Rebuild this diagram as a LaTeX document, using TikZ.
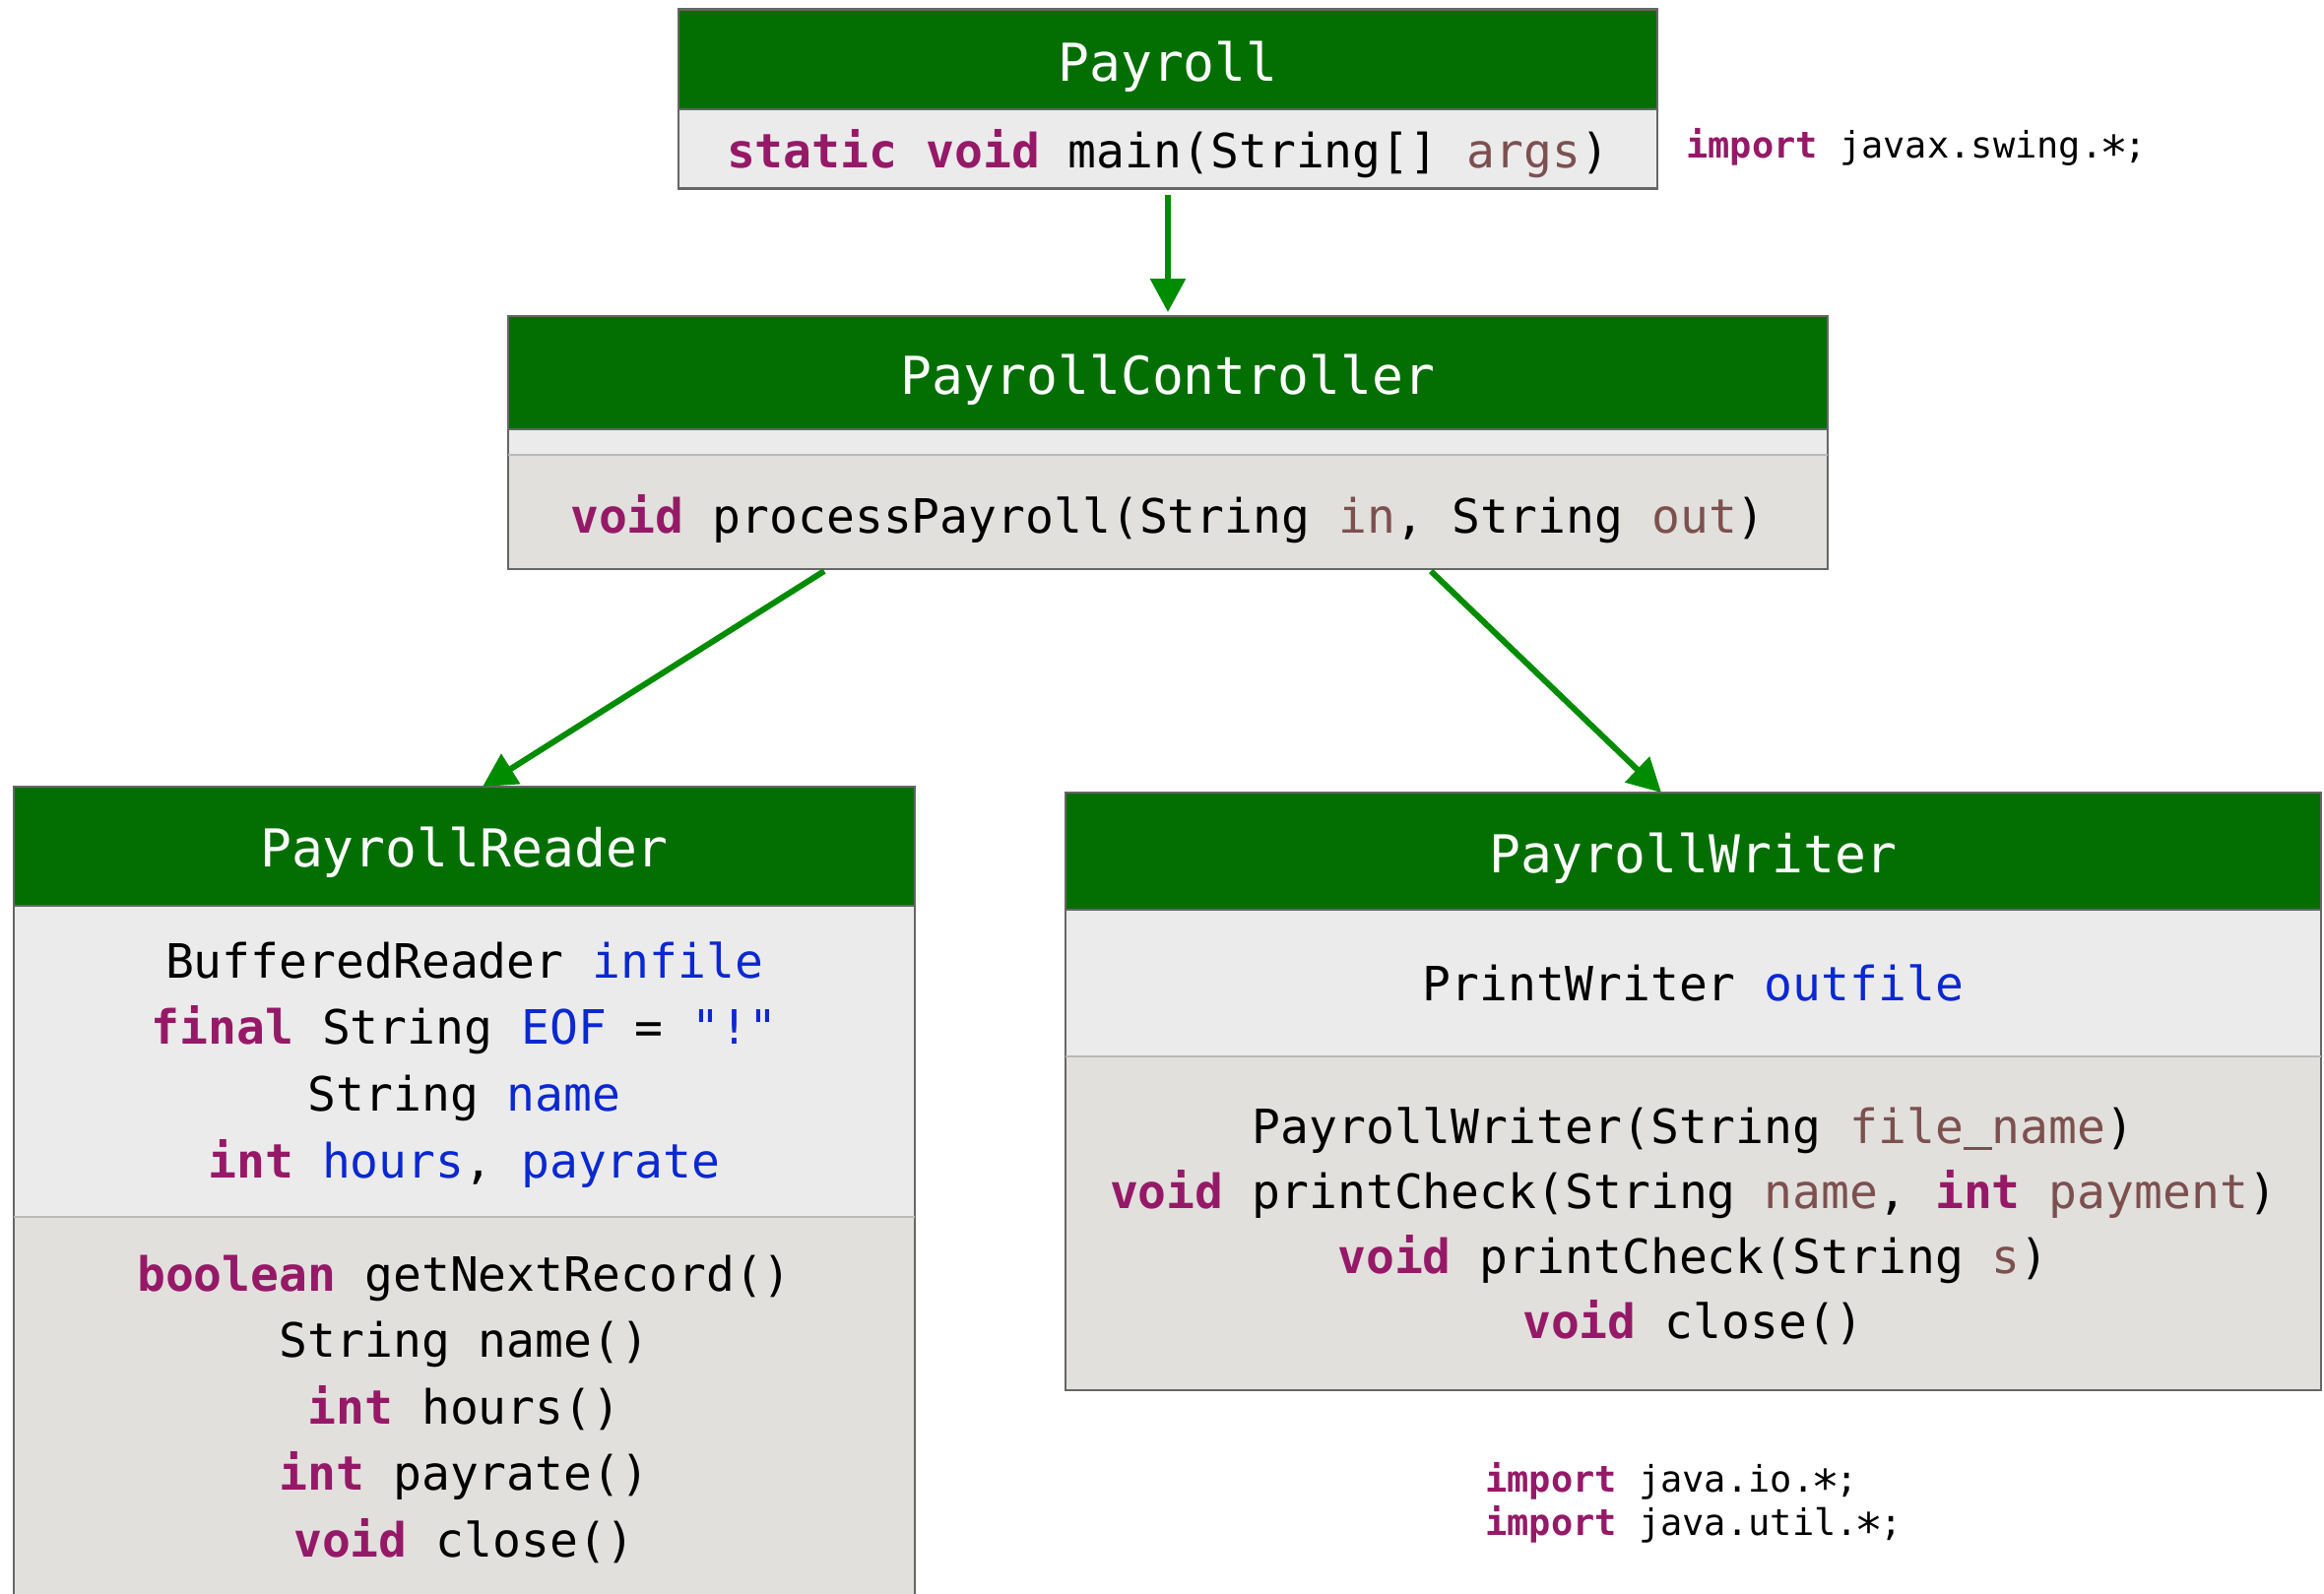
\documentclass[tikz,border=0pt]{standalone}
\usepackage{fontspec}
\usepackage{graphicx}
\setmonofont{DejaVu Sans Mono}
\usetikzlibrary{arrows.meta}

\definecolor{hdrgreen}{RGB}{3,111,3}
\definecolor{arrowgreen}{RGB}{0,140,0}
\definecolor{attrgray}{RGB}{235,235,235}
\definecolor{methgray}{RGB}{225,224,220}
\definecolor{framegray}{RGB}{102,102,102}
\definecolor{sepgray}{RGB}{185,185,185}
\definecolor{kwcolor}{RGB}{150,25,104}
\definecolor{fldcolor}{RGB}{10,40,210}
\definecolor{prmcolor}{RGB}{125,80,80}

% syntax colouring for the member lists
\newcommand{\kwd}[1]{\textbf{\textcolor{kwcolor}{#1}}}
\newcommand{\fldn}[1]{\textcolor{fldcolor}{#1}}
\newcommand{\prmn}[1]{\textcolor{prmcolor}{#1}}
% centred asterisk and a clearly visible underscore, one cell wide each
\newcommand{\midstar}{\makebox[0.602em]{\smash{\raisebox{-0.33em}{\scalebox{1.3}{*}}}}}
\newcommand{\uscore}{\rule[-0.15em]{0.602em}{0.075em}}

\newcommand{\titlefont}{\ttfamily\fontsize{53}{60}\selectfont}
\newcommand{\codefont}{\ttfamily\fontsize{48}{56}\selectfont}
\newcommand{\importfont}{\ttfamily\fontsize{37}{44}\selectfont}

\tikzset{
  part/.style={rectangle, draw=none, inner sep=0pt, outer sep=0pt, anchor=north west},
  hdr/.style={part, fill=hdrgreen},
  attrbox/.style={part, fill=attrgray},
  methbox/.style={part, fill=methgray},
  frame/.style={draw=framegray, line width=2.5pt},
  sep/.style={draw=sepgray, line width=2pt},
  conn/.style={draw=arrowgreen, line width=6pt, -{Triangle[length=34pt,width=35pt]}},
  title/.style={font=\titlefont, text=white, anchor=base, inner sep=0pt},
  code/.style={font=\codefont, anchor=base, inner sep=0pt},
  imports/.style={font=\importfont, anchor=base west, inner sep=0pt, align=left},
}

\begin{document}
\begin{tikzpicture}[x=1pt, y=-1pt]
\useasboundingbox (0,0) rectangle (2360,1618);
\clip (0,0) rectangle (2360,1618);
\fill[white] (0,0) rectangle (2360,1618);

% ---- Payroll ----
\node[hdr, minimum width=994, minimum height=101.5] (payH) at (689,9.5) {};
\node[attrbox, minimum width=994, minimum height=80.5] (payM) at (689,111) {};
\draw[frame] (payH.north west) rectangle (payM.south east);
\draw[frame] (payH.south west) -- (payH.south east);
\node[title] (payT) at (1186,82) {Payroll};
\node[code] (payM1) at (1186,170) {\kwd{static} \kwd{void} main(String[] \prmn{args})};

\node[imports] (imp1) at (1712,160) {\kwd{import} javax.swing.\midstar;};

% ---- PayrollController ----
\node[hdr, minimum width=1340, minimum height=115] (ctrlH) at (516,321) {};
\node[attrbox, minimum width=1340, minimum height=26] (ctrlA) at (516,436) {};
\node[methbox, minimum width=1340, minimum height=116] (ctrlM) at (516,462) {};
\draw[frame] (ctrlH.north west) rectangle (ctrlM.south east);
\draw[frame] (ctrlH.south west) -- (ctrlH.south east);
\draw[sep] (ctrlA.south west) -- (ctrlA.south east);
\node[title] (ctrlT) at (1186,400) {PayrollController};
\node[code] (ctrlM1) at (1186,541) {\kwd{void} processPayroll(String \prmn{in}, String \prmn{out})};

% ---- PayrollReader ----
\node[hdr, minimum width=915, minimum height=121] (rdH) at (14,799) {};
\node[attrbox, minimum width=915, minimum height=316] (rdA) at (14,920) {};
\node[methbox, minimum width=915, minimum height=420] (rdM) at (14,1236) {};
\draw[frame] (rdH.north west) rectangle (rdM.south east);
\draw[frame] (rdH.south west) -- (rdH.south east);
\draw[sep] (rdA.south west) -- (rdA.south east);
\node[title] (rdT) at (471.5,880) {PayrollReader};
\node[code] (rdA1) at (471.5,993)  {BufferedReader \fldn{infile}};
\node[code] (rdA2) at (471.5,1060) {\kwd{final} String \fldn{EOF} = \fldn{"!"}};
\node[code] (rdA3) at (471.5,1128) {String \fldn{name}};
\node[code] (rdA4) at (471.5,1196) {\kwd{int} \fldn{hours}, \fldn{payrate}};
\node[code] (rdM1) at (471.5,1311) {\kwd{boolean} getNextRecord()};
\node[code] (rdM2) at (471.5,1378) {String name()};
\node[code] (rdM3) at (471.5,1446) {\kwd{int} hours()};
\node[code] (rdM4) at (471.5,1513) {\kwd{int} payrate()};
\node[code] (rdM5) at (471.5,1581) {\kwd{void} close()};

% ---- PayrollWriter ----
\node[hdr, minimum width=1275, minimum height=119] (wrH) at (1082,805) {};
\node[attrbox, minimum width=1275, minimum height=149] (wrA) at (1082,924) {};
\node[methbox, minimum width=1275, minimum height=339] (wrM) at (1082,1073) {};
\draw[frame] (wrH.north west) rectangle (wrM.south east);
\draw[frame] (wrH.south west) -- (wrH.south east);
\draw[sep] (wrA.south west) -- (wrA.south east);
\node[title] (wrT) at (1719.5,886) {PayrollWriter};
\node[code] (wrA1) at (1719.5,1016) {PrintWriter \fldn{outfile}};
\node[code] (wrM1) at (1719.5,1161) {PayrollWriter(String \prmn{file\uscore name})};
\node[code] (wrM2) at (1719.5,1227) {\kwd{void} printCheck(String \prmn{name}, \kwd{int} \prmn{payment})};
\node[code] (wrM3) at (1719.5,1293) {\kwd{void} printCheck(String \prmn{s})};
\node[code] (wrM4) at (1719.5,1359) {\kwd{void} close()};

% two import lines set as one block (base anchor sits on the last line)
\node[imports] (imp2) at (1508,1559) {\kwd{import} java.io.\midstar;\\[-0.02em]\kwd{import} java.util.\midstar;};

% ---- dependencies ----
\draw[conn] ([yshift=-6.5pt]payM.south) -- ([yshift=4pt]ctrlH.north);
\draw[conn] ([xshift=321pt,yshift=-2pt]ctrlM.south west) -- ([xshift=476pt]rdH.north west);
\draw[conn] ([xshift=937pt,yshift=-2pt]ctrlM.south west) -- ([xshift=605pt]wrH.north west);
\end{tikzpicture}
\end{document}
